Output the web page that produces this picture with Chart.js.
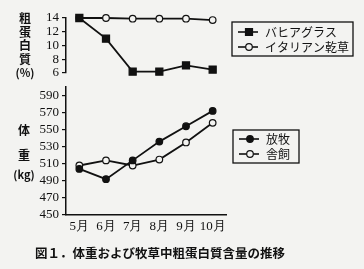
<!DOCTYPE html>
<html>
<head>
<meta charset="utf-8" />
<script src="https://cdn.jsdelivr.net/npm/chart.js@4/dist/chart.umd.min.js"></script>
<style>
  html, body { margin: 0; padding: 0; background: #f3f3f1; }
  #wrap { position: relative; width: 364px; height: 269px; overflow: hidden; }
  canvas { position: absolute; left: 0; top: 0; }
  .t { position: absolute; transform: translate(-50%, -50%); font-family: "Noto Sans CJK JP", sans-serif; font-weight: bold; font-size: 12px; color: #111; white-space: nowrap; line-height: 1; }
  .cap { position: absolute; left: 35px; top: 247px; font-family: "Noto Sans CJK JP", sans-serif; font-weight: bold; font-size: 12.5px; color: #111; white-space: nowrap; line-height: 1; }
</style>
</head>
<body>
<div id="wrap">
  <canvas id="protein" width="364" height="269"></canvas>
  <canvas id="weight" width="364" height="269"></canvas>

  <span class="t" style="left:25px;top:18px">粗</span>
  <span class="t" style="left:25px;top:31.5px">蛋</span>
  <span class="t" style="left:25px;top:45px">白</span>
  <span class="t" style="left:25px;top:58.5px">質</span>
  <span class="t" style="left:25px;top:72px;font-size:11px">(%)</span>

  <span class="t" style="left:24px;top:130px">体</span>
  <span class="t" style="left:24px;top:155px">重</span>
  <span class="t" style="left:24px;top:174px;font-size:11px">(kg)</span>

  <div class="cap">図１．体重および牧草中粗蛋白質含量の推移</div>
</div>

<script>
const months = ["5月", "6月", "7月", "8月", "9月", "10月"];

// crude protein (%)
const bahiagrass = [14, 11, 6.2, 6.2, 7.1, 6.5];
const italianHay = [14, 14, 13.9, 13.9, 13.9, 13.7];
const proteinTicks = [6, 8, 10, 12, 14];

// body weight (kg)
const grazing = [504, 492, 514, 536, 554, 572];
const housed = [508, 514, 508, 515, 535, 558];
const weightTicks = [450, 470, 490, 510, 530, 550, 570, 590];

const bg = "#f3f3f1";
const ink = "#111";
const serif = "Liberation Serif";
const jp = "'Noto Sans CJK JP', sans-serif";

// legend drawn as a boxed list, from the datasets themselves
const boxLegend = {
  id: "boxLegend",
  afterDraw(chart, args, opts) {
    const ctx = chart.ctx;
    ctx.save();
    ctx.strokeStyle = ink;
    ctx.lineWidth = 1.3;
    ctx.strokeRect(opts.x, opts.y, opts.w, opts.h);
    chart.data.datasets.forEach((ds, i) => {
      const y = opts.rowY[i];
      ctx.strokeStyle = ink;
      ctx.lineWidth = 1.6;
      ctx.beginPath();
      ctx.moveTo(opts.x + 6, y);
      ctx.lineTo(opts.x + 26, y);
      ctx.stroke();
      const mx = opts.x + 17;
      ctx.fillStyle = ds.pointBackgroundColor;
      ctx.beginPath();
      if (ds.pointStyle === "rect") {
        ctx.rect(mx - 3.5, y - 3.5, 7, 7);
      } else {
        ctx.arc(mx, y, 3.3, 0, Math.PI * 2);
      }
      ctx.fill();
      ctx.lineWidth = 1.2;
      ctx.stroke();
      ctx.fillStyle = ink;
      ctx.font = "12px " + jp;
      ctx.textBaseline = "middle";
      ctx.fillText(ds.label, opts.x + 33, y + 0.5);
    });
    ctx.restore();
  },
};

function yAxis(min, max, ticks) {
  return {
    min: min,
    max: max,
    afterBuildTicks: (axis) => {
      axis.ticks = ticks.map((v) => ({ value: v }));
    },
    afterFit: (axis) => {
      axis.width = 66;
    },
    border: { display: true, color: ink, width: 1.5 },
    grid: { drawOnChartArea: false, color: ink, tickLength: 4, lineWidth: 1.2 },
    ticks: { color: ink, padding: 3, autoSkip: false, font: { family: serif, size: 13 } },
  };
}

const lineStyle = {
  borderColor: ink,
  borderWidth: 1.8,
  pointBorderColor: ink,
  pointBorderWidth: 1.2,
  tension: 0,
  clip: false,
};

const proteinChart = new Chart(document.getElementById("protein").getContext("2d"), {
  type: "line",
  data: {
    labels: months,
    datasets: [
      { ...lineStyle, label: "バヒアグラス", data: bahiagrass, pointStyle: "rect", pointRadius: 5, pointBackgroundColor: ink },
      { ...lineStyle, label: "イタリアン乾草", data: italianHay, pointStyle: "circle", pointRadius: 3.3, pointBackgroundColor: bg },
    ],
  },
  options: {
    responsive: false,
    animation: false,
    devicePixelRatio: 1,
    layout: { padding: { top: 18, bottom: 196, left: 0, right: 138 } },
    plugins: {
      legend: { display: false },
      tooltip: { enabled: false },
      boxLegend: { x: 232, y: 22, w: 121, h: 34, rowY: [32, 47] },
    },
    scales: {
      x: { display: false, offset: true },
      y: yAxis(6, 14, proteinTicks),
    },
  },
  plugins: [boxLegend],
});

const weightChart = new Chart(document.getElementById("weight").getContext("2d"), {
  type: "line",
  data: {
    labels: months,
    datasets: [
      { ...lineStyle, label: "放牧", data: grazing, pointStyle: "circle", pointRadius: 3.3, pointBackgroundColor: ink },
      { ...lineStyle, label: "舎飼", data: housed, pointStyle: "circle", pointRadius: 3.3, pointBackgroundColor: bg },
    ],
  },
  options: {
    responsive: false,
    animation: false,
    devicePixelRatio: 1,
    layout: { padding: { top: 87, bottom: 0, left: 0, right: 138 } },
    plugins: {
      legend: { display: false },
      tooltip: { enabled: false },
      boxLegend: { x: 233, y: 130, w: 66, h: 33, rowY: [139, 154] },
    },
    scales: {
      x: {
        offset: true,
        afterFit: (axis) => {
          axis.height = 54;
        },
        border: { display: true, color: ink, width: 1.5 },
        grid: { display: false, drawTicks: false },
        ticks: { color: ink, padding: 4, maxRotation: 0, autoSkip: false, font: { family: serif, size: 13 } },
      },
      y: yAxis(450, 600, weightTicks),
    },
  },
  plugins: [boxLegend],
});
</script>
</body>
</html>
